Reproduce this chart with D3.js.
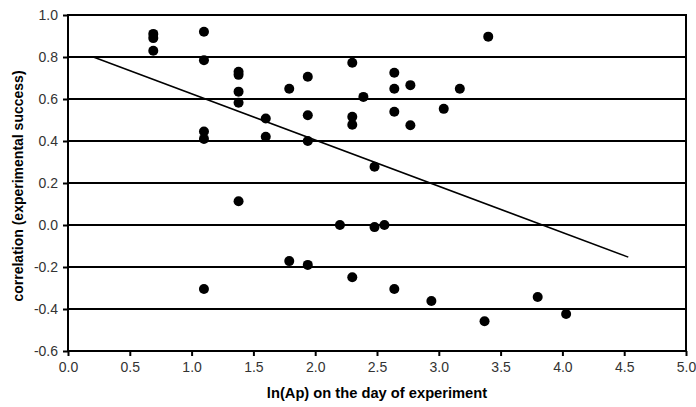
<!DOCTYPE html>
<html>
<head>
<meta charset="utf-8">
<script src="https://cdn.jsdelivr.net/npm/d3@7/dist/d3.min.js"></script>
<style>
  html, body { margin: 0; padding: 0; background: #fff; }
  svg { display: block; }
  text { font-family: "Liberation Sans", Arial, sans-serif; }
</style>
</head>
<body>
<svg id="chart" width="696" height="407"></svg>
<script>
// ---- data ----
const lnAp = [
  0.69, 0.69, 0.69,
  1.10, 1.10, 1.10, 1.10, 1.10,
  1.38, 1.38, 1.38, 1.38, 1.38,
  1.60, 1.60,
  1.79, 1.79,
  1.94, 1.94, 1.94, 1.94,
  2.20,
  2.30, 2.30, 2.30, 2.30,
  2.39,
  2.48, 2.48,
  2.56,
  2.64, 2.64, 2.64, 2.64,
  2.77, 2.77,
  2.94,
  3.04,
  3.17,
  3.37,
  3.40,
  3.80,
  4.03
];
const correlation = [
  0.91, 0.89, 0.83,
  0.92, 0.785, 0.445, 0.41, -0.305,
  0.73, 0.715, 0.635, 0.582, 0.113,
  0.507, 0.42,
  0.649, -0.172,
  0.706, 0.523, 0.40, -0.19,
  0.0,
  0.773, 0.515, 0.477, -0.249,
  0.61,
  0.277, -0.01,
  0.0,
  0.725, 0.649, 0.539, -0.305,
  0.666, 0.475,
  -0.362,
  0.553,
  0.649,
  -0.458,
  0.897,
  -0.343,
  -0.424
];
const trendX = [0.205, 4.533];
const trendY = [0.80, -0.153];
const xTicks = [0, 0.5, 1, 1.5, 2, 2.5, 3, 3.5, 4, 4.5, 5];
const yTicks = [-0.6, -0.4, -0.2, 0, 0.2, 0.4, 0.6, 0.8, 1.0];
const xTitle = "ln(Ap) on the day of experiment";
const yTitle = "correlation (experimental success)";

// ---- layout ----
const W = 696, H = 407;
const m = { left: 68, top: 15, right: 10, bottom: 56 };
const svg = d3.select("#chart");
const x = d3.scaleLinear().domain([0, 5]).range([m.left, W - m.right]);
const y = d3.scaleLinear().domain([-0.6, 1.0]).range([H - m.bottom, m.top]);
const fmt = d => d.toFixed(1);

// gridlines
svg.append("g").selectAll("line").data(yTicks).join("line")
  .attr("x1", x(0)).attr("x2", x(5))
  .attr("y1", d => y(d)).attr("y2", d => y(d))
  .attr("stroke", "#000").attr("stroke-width", 2);

// right border
svg.append("line")
  .attr("x1", x(5)).attr("x2", x(5))
  .attr("y1", y(1.0) - 1).attr("y2", y(-0.6))
  .attr("stroke", "#000").attr("stroke-width", 2);

// axes
const xAxis = d3.axisBottom(x).tickValues(xTicks).tickFormat(fmt)
  .tickSizeInner(5).tickSizeOuter(0).tickPadding(6);
const gx = svg.append("g").attr("transform", `translate(0,${y(-0.6)})`).call(xAxis);
const yAxis = d3.axisLeft(y).tickValues(yTicks).tickFormat(fmt)
  .tickSizeInner(5).tickSizeOuter(0).tickPadding(5);
const gy = svg.append("g").attr("transform", `translate(${x(0)},0)`).call(yAxis);

[gx, gy].forEach(g => {
  g.select(".domain").attr("stroke", "#000").attr("stroke-width", 2);
  g.selectAll(".tick line").attr("stroke", "#000").attr("stroke-width", 2);
  g.selectAll(".tick text").attr("fill", "#333")
    .style("font-family", "'Liberation Sans', Arial, sans-serif")
    .style("font-size", "14px");
});
gx.select(".domain").attr("d", `M${x(0) - 1},0H${x(5) + 1}`);
gy.select(".domain").attr("d", `M0,${y(-0.6) + 1}V${y(1.0) - 1}`);

// trend line
const line = d3.line().x(d => x(d[0])).y(d => y(d[1]));
svg.append("path")
  .datum(d3.zip(trendX, trendY))
  .attr("d", line)
  .attr("fill", "none").attr("stroke", "#000").attr("stroke-width", 1.5);

// points
svg.append("g").selectAll("circle").data(d3.zip(lnAp, correlation)).join("circle")
  .attr("cx", d => x(d[0])).attr("cy", d => y(d[1]))
  .attr("r", 5).attr("fill", "#000");

// axis titles
svg.append("text")
  .attr("x", (x(0) + x(5)) / 2).attr("y", 398)
  .attr("text-anchor", "middle")
  .style("font-size", "14.7px").style("font-weight", "bold")
  .text(xTitle);
svg.append("text")
  .attr("transform", `translate(23,186) rotate(-90)`)
  .attr("text-anchor", "middle")
  .style("font-size", "14px").style("font-weight", "bold")
  .text(yTitle);
</script>
</body>
</html>
